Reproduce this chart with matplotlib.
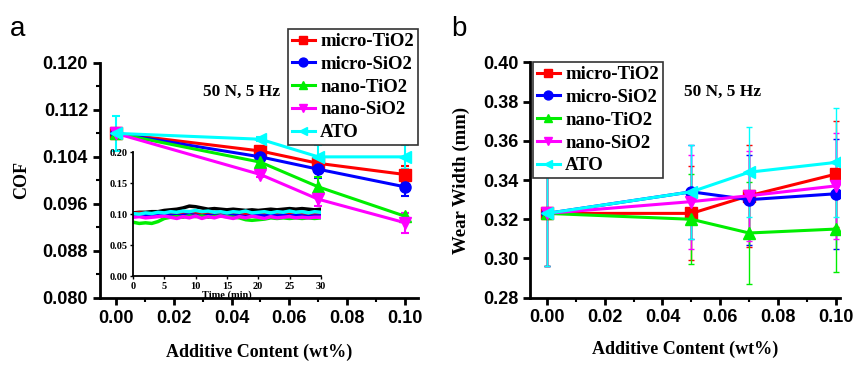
import numpy as np
import matplotlib
matplotlib.use('Agg')
import matplotlib.pyplot as plt
from matplotlib.ticker import MultipleLocator
from matplotlib.font_manager import FontProperties

# additive content (wt%)
content = [0.0, 0.05, 0.07, 0.10]
names = ['micro-TiO2', 'micro-SiO2', 'nano-TiO2', 'nano-SiO2', 'ATO']

# panel a: COF
cof_micro_tio2 = [0.1080, 0.1050, 0.1029, 0.1010]
cof_micro_sio2 = [0.1080, 0.1040, 0.1019, 0.0989]
cof_nano_tio2 = [0.1080, 0.1031, 0.0989, 0.0939]
cof_nano_sio2 = [0.1080, 0.1010, 0.0968, 0.0928]
cof_ato = [0.1080, 0.1070, 0.1040, 0.1040]
cof_err_micro_tio2 = [0.0005, 0.0007, 0.0008, 0.0015]
cof_err_micro_sio2 = [0.0005, 0.0008, 0.0015, 0.0015]
cof_err_nano_tio2 = [0.0005, 0.0006, 0.0017, 0.0005]
cof_err_nano_sio2 = [0.0005, 0.0005, 0.0012, 0.0017]
cof_err_ato = [0.0030, 0.0003, 0.0020, 0.0020]

# panel b: wear width (mm)
ww_micro_tio2 = [0.323, 0.323, 0.332, 0.343]
ww_micro_sio2 = [0.323, 0.334, 0.330, 0.333]
ww_nano_tio2 = [0.323, 0.320, 0.313, 0.315]
ww_nano_sio2 = [0.323, 0.329, 0.332, 0.337]
ww_ato = [0.323, 0.334, 0.344, 0.349]
ww_err_micro_tio2 = [0.027, 0.024, 0.026, 0.027]
ww_err_micro_sio2 = [0.027, 0.024, 0.023, 0.028]
ww_err_nano_tio2 = [0.027, 0.023, 0.026, 0.022]
ww_err_nano_sio2 = [0.027, 0.024, 0.023, 0.027]
ww_err_ato = [0.027, 0.024, 0.023, 0.028]

# inset: COF vs time (min)
time_min = list(range(31))
inset_base = [0.102, 0.103, 0.103, 0.104, 0.104, 0.106, 0.107, 0.108, 0.110, 0.113, 0.112,
              0.110, 0.108, 0.109, 0.108, 0.107, 0.108, 0.107, 0.106, 0.107, 0.106,
              0.107, 0.108, 0.107, 0.108, 0.109, 0.108, 0.109, 0.108, 0.107, 0.108]
inset_micro_tio2 = [0.101, 0.102, 0.101, 0.100, 0.101, 0.102, 0.101, 0.100, 0.101, 0.102, 0.101,
                    0.100, 0.101, 0.100, 0.101, 0.100, 0.101, 0.100, 0.099, 0.100, 0.101,
                    0.100, 0.101, 0.100, 0.101, 0.100, 0.100, 0.101, 0.100, 0.101, 0.100]
inset_micro_sio2 = [0.098, 0.099, 0.098, 0.099, 0.098, 0.099, 0.098, 0.097, 0.098, 0.099, 0.098,
                    0.097, 0.098, 0.097, 0.098, 0.097, 0.098, 0.097, 0.096, 0.097, 0.098,
                    0.097, 0.098, 0.097, 0.098, 0.097, 0.098, 0.097, 0.096, 0.097, 0.097]
inset_nano_tio2 = [0.087, 0.085, 0.086, 0.085, 0.088, 0.093, 0.095, 0.096, 0.095, 0.097, 0.096,
                   0.097, 0.095, 0.096, 0.097, 0.096, 0.095, 0.094, 0.091, 0.090, 0.091,
                   0.092, 0.094, 0.093, 0.094, 0.093, 0.094, 0.093, 0.094, 0.093, 0.094]
inset_nano_sio2 = [0.095, 0.096, 0.094, 0.095, 0.096, 0.097, 0.095, 0.093, 0.096, 0.094, 0.097,
                   0.093, 0.096, 0.094, 0.097, 0.095, 0.093, 0.096, 0.094, 0.097, 0.095,
                   0.093, 0.096, 0.094, 0.095, 0.096, 0.094, 0.095, 0.094, 0.095, 0.095]
inset_ato = [0.101, 0.100, 0.102, 0.101, 0.103, 0.102, 0.104, 0.103, 0.105, 0.104, 0.106,
             0.104, 0.105, 0.103, 0.104, 0.102, 0.104, 0.103, 0.105, 0.102, 0.103,
             0.104, 0.102, 0.104, 0.103, 0.105, 0.103, 0.104, 0.102, 0.104, 0.103]

colors = ['#ff0000', '#0000ff', '#00ee00', '#ff00ff', '#00ffff']
markers = ['s', 'o', '^', 'v', '<']

serif = 'Liberation Serif'
sans = 'Liberation Sans'
legend_font = FontProperties(family=serif, weight='bold', size=13.5)

fig = plt.figure(figsize=(8.54, 3.65), dpi=100)


def style_axes(ax):
    for s in ['top', 'right']:
        ax.spines[s].set_visible(False)
    for s in ['left', 'bottom']:
        ax.spines[s].set_linewidth(2)
    ax.tick_params(which='major', direction='out', length=5, width=2)
    ax.tick_params(which='minor', direction='out', length=3, width=1.5)
    for lab in ax.get_xticklabels() + ax.get_yticklabels():
        lab.set_fontfamily(sans)
        lab.set_fontweight('bold')
        lab.set_fontsize(13)


# ---------- panel a ----------
ax1 = fig.add_axes([0.117, 0.1836, 0.3725, 0.6444])
cof = [cof_micro_tio2, cof_micro_sio2, cof_nano_tio2, cof_nano_sio2, cof_ato]
cof_err = [cof_err_micro_tio2, cof_err_micro_sio2, cof_err_nano_tio2, cof_err_nano_sio2, cof_err_ato]
handles1 = []
for y, e, c, m, n in zip(cof, cof_err, colors, markers, names):
    eb = ax1.errorbar(content, y, yerr=e, color=c, marker=m, markersize=8, lw=2.2,
                      elinewidth=1.5, capsize=3, capthick=1.5, label=n)
    handles1.append(eb[0])
ax1.set_xlim(-0.0055, 0.1045)
ax1.set_ylim(0.080, 0.120)
ax1.xaxis.set_minor_locator(MultipleLocator(0.01))
ax1.yaxis.set_minor_locator(MultipleLocator(0.004))
ax1.set_xticks([0, 0.02, 0.04, 0.06, 0.08, 0.10])
ax1.set_xticklabels(['0.00', '0.02', '0.04', '0.06', '0.08', '0.10'])
ax1.set_yticks([0.080, 0.088, 0.096, 0.104, 0.112, 0.120])
ax1.set_yticklabels(['0.080', '0.088', '0.096', '0.104', '0.112', '0.120'])
style_axes(ax1)
ax1.set_xlabel('Additive Content (wt%)', fontfamily=serif, fontweight='bold', fontsize=13, labelpad=12)
ax1.set_ylabel('COF', fontfamily=serif, fontweight='bold', fontsize=13, labelpad=9)
ax1.text(0.565, 0.875, '50 N, 5 Hz', transform=ax1.transAxes, fontfamily=serif,
         fontweight='bold', fontsize=12.5, ha='right', va='center')
leg1 = ax1.legend(handles=handles1, labels=names, loc='upper right', bbox_to_anchor=(0.4895, 0.921),
                  bbox_transform=fig.transFigure, prop=legend_font, frameon=True, fancybox=False,
                  edgecolor='#333333', framealpha=1, borderaxespad=0, borderpad=0.22,
                  labelspacing=0.3, handlelength=1.2, handletextpad=0.3, markerscale=0.8)
leg1.get_frame().set_linewidth(1.2)
fig.text(0.012, 0.955, 'a', fontfamily=sans, fontsize=20, va='top')

# inset
axi = fig.add_axes([0.1557, 0.2438, 0.220, 0.339])
inset = [inset_base, inset_micro_tio2, inset_micro_sio2, inset_nano_tio2, inset_nano_sio2, inset_ato]
for y, c in zip(inset, ['black'] + colors):
    axi.plot(time_min, y, color=c, lw=2.5)
axi.set_xlim(0, 30)
axi.set_ylim(0, 0.20)
axi.set_xticks([0, 5, 10, 15, 20, 25, 30])
axi.set_yticks([0.00, 0.05, 0.10, 0.15, 0.20])
axi.set_yticklabels(['0.00', '0.05', '0.10', '0.15', '0.20'])
for s in ['top', 'right']:
    axi.spines[s].set_visible(False)
for s in ['left', 'bottom']:
    axi.spines[s].set_linewidth(1.3)
axi.tick_params(direction='out', length=2, width=1, pad=2)
for lab in axi.get_xticklabels() + axi.get_yticklabels():
    lab.set_fontfamily(serif)
    lab.set_fontweight('bold')
    lab.set_fontsize(7.5)
axi.set_xlabel('Time (min)', fontfamily=serif, fontweight='bold', fontsize=7.5, labelpad=0)
axi.patch.set_alpha(0)

# ---------- panel b ----------
ax2 = fig.add_axes([0.6206, 0.1844, 0.363, 0.6446])
ww = [ww_micro_tio2, ww_micro_sio2, ww_nano_tio2, ww_nano_sio2, ww_ato]
ww_err = [ww_err_micro_tio2, ww_err_micro_sio2, ww_err_nano_tio2, ww_err_nano_sio2, ww_err_ato]
handles2 = []
for y, e, c, m, n in zip(ww, ww_err, colors, markers, names):
    eb = ax2.errorbar(content, y, yerr=e, color=c, marker=m, markersize=8, lw=2.2,
                      elinewidth=1, capsize=2.5, capthick=1, label=n)
    handles2.append(eb[0])
ax2.set_xlim(-0.0059, 0.1015)
ax2.set_ylim(0.28, 0.40)
ax2.set_xticks([0, 0.02, 0.04, 0.06, 0.08, 0.10])
ax2.set_xticklabels(['0.00', '0.02', '0.04', '0.06', '0.08', '0.10'])
ax2.xaxis.set_minor_locator(MultipleLocator(0.01))
ax2.set_yticks([0.28, 0.30, 0.32, 0.34, 0.36, 0.38, 0.40])
ax2.set_yticklabels(['0.28', '0.30', '0.32', '0.34', '0.36', '0.38', '0.40'])
style_axes(ax2)
ax2.set_xlabel('Additive Content (wt%)', fontfamily=serif, fontweight='bold', fontsize=13, labelpad=10)
ax2.set_ylabel('Wear Width (mm)', fontfamily=serif, fontweight='bold', fontsize=13.5, labelpad=9)
ax2.text(0.745, 0.875, '50 N, 5 Hz', transform=ax2.transAxes, fontfamily=serif,
         fontweight='bold', fontsize=12.5, ha='right', va='center')
leg2 = ax2.legend(handles=handles2, labels=names, loc='upper left', bbox_to_anchor=(0.624, 0.830),
                  bbox_transform=fig.transFigure, prop=legend_font, frameon=True, fancybox=False,
                  edgecolor='#333333', framealpha=1, borderaxespad=0, borderpad=0.22,
                  labelspacing=0.3, handlelength=1.2, handletextpad=0.3, markerscale=0.8)
leg2.get_frame().set_linewidth(1.2)
fig.text(0.528, 0.955, 'b', fontfamily=sans, fontsize=20, va='top')

fig.savefig('out.png', dpi=100)
